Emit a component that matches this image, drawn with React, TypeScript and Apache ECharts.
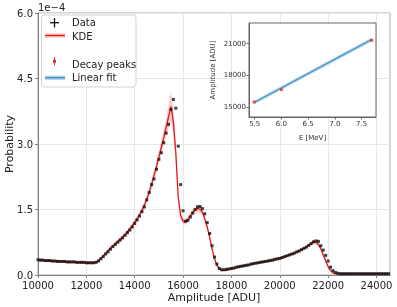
import React, { useEffect, useRef } from "react";
import * as echarts from "echarts";

// Main histogram: amplitude bin centres [ADU]
const amplitude = [
  10000, 10100, 10200, 10300, 10400, 10500, 10600, 10700, 10800, 10900,
  11000, 11100, 11200, 11300, 11400, 11500, 11600, 11700, 11800, 11900,
  12000, 12100, 12200, 12300, 12400, 12500, 12600, 12700, 12800, 12900,
  13000, 13100, 13200, 13300, 13400, 13500, 13600, 13700, 13800, 13900,
  14000, 14100, 14200, 14300, 14400, 14500, 14600, 14700, 14800, 14900,
  15000, 15100, 15200, 15300, 15400, 15500, 15600, 15700, 15800, 15900,
  16000, 16100, 16200, 16300, 16400, 16500, 16600, 16700, 16800, 16900,
  17000, 17100, 17200, 17300, 17400, 17500, 17600, 17700, 17800, 17900,
  18000, 18100, 18200, 18300, 18400, 18500, 18600, 18700, 18800, 18900,
  19000, 19100, 19200, 19300, 19400, 19500, 19600, 19700, 19800, 19900,
  20000, 20100, 20200, 20300, 20400, 20500, 20600, 20700, 20800, 20900,
  21000, 21100, 21200, 21300, 21400, 21500, 21600, 21700, 21800, 21900,
  22000, 22100, 22200, 22300, 22400, 22500, 22600, 22700, 22800, 22900,
  23000, 23100, 23200, 23300, 23400, 23500, 23600, 23700, 23800, 23900,
  24000, 24100, 24200, 24300, 24400, 24500,
];

// Probability (units of 1e-4)
const dataProb = [
  0.35, 0.34, 0.34, 0.33, 0.33, 0.33, 0.32, 0.32, 0.31, 0.31,
  0.31, 0.31, 0.30, 0.30, 0.30, 0.30, 0.29, 0.29, 0.29, 0.29,
  0.28, 0.28, 0.28, 0.28, 0.29, 0.32, 0.37, 0.42, 0.48, 0.53,
  0.59, 0.65, 0.70, 0.75, 0.80, 0.85, 0.91, 0.97, 1.03, 1.10,
  1.18, 1.26, 1.35, 1.45, 1.56, 1.72, 1.89, 2.07, 2.20, 2.42,
  2.65, 2.80, 3.03, 3.25, 3.45, 3.79, 4.02, 3.82, 2.95, 2.07,
  1.47, 1.23, 1.25, 1.33, 1.42, 1.50, 1.56, 1.57, 1.52, 1.40,
  1.20, 0.95, 0.67, 0.41, 0.25, 0.15, 0.12, 0.12, 0.13, 0.14,
  0.15, 0.16, 0.18, 0.19, 0.20, 0.21, 0.22, 0.23, 0.25, 0.26,
  0.27, 0.28, 0.29, 0.30, 0.31, 0.32, 0.33, 0.34, 0.36, 0.37,
  0.38, 0.40, 0.42, 0.44, 0.46, 0.48, 0.50, 0.53, 0.55, 0.58,
  0.61, 0.64, 0.68, 0.72, 0.76, 0.78, 0.77, 0.67, 0.57, 0.45,
  0.32, 0.18, 0.10, 0.06, 0.04, 0.03, 0.03, 0.03, 0.03, 0.03,
  0.03, 0.03, 0.03, 0.03, 0.03, 0.03, 0.03, 0.03, 0.03, 0.03,
  0.03, 0.03, 0.03, 0.03, 0.03, 0.03,
];

const kdeProb = [
  0.35, 0.34, 0.34, 0.33, 0.33, 0.33, 0.32, 0.32, 0.32, 0.31,
  0.31, 0.31, 0.30, 0.30, 0.30, 0.30, 0.29, 0.29, 0.29, 0.29,
  0.28, 0.28, 0.28, 0.28, 0.29, 0.33, 0.38, 0.44, 0.50, 0.56,
  0.62, 0.67, 0.72, 0.77, 0.82, 0.87, 0.93, 0.99, 1.06, 1.13,
  1.21, 1.29, 1.38, 1.48, 1.60, 1.74, 1.90, 2.08, 2.28, 2.48,
  2.70, 2.92, 3.14, 3.38, 3.62, 3.86, 3.50, 2.80, 1.78, 1.36,
  1.23, 1.22, 1.27, 1.35, 1.43, 1.49, 1.52, 1.51, 1.44, 1.28,
  1.10, 0.86, 0.60, 0.38, 0.22, 0.14, 0.11, 0.11, 0.12, 0.13,
  0.14, 0.16, 0.17, 0.18, 0.20, 0.21, 0.22, 0.23, 0.24, 0.26,
  0.27, 0.28, 0.29, 0.30, 0.31, 0.32, 0.33, 0.34, 0.35, 0.37,
  0.38, 0.40, 0.42, 0.44, 0.46, 0.48, 0.50, 0.52, 0.55, 0.58,
  0.61, 0.64, 0.68, 0.72, 0.76, 0.75, 0.70, 0.60, 0.46, 0.32,
  0.19, 0.10, 0.05, 0.03, 0.03, 0.03, 0.03, 0.03, 0.03, 0.03,
  0.03, 0.03, 0.03, 0.03, 0.03, 0.03, 0.03, 0.03, 0.03, 0.03,
  0.03, 0.03, 0.03, 0.03, 0.03, 0.03,
];

// KDE uncertainty half-width (units of 1e-4)
const kdeErr = [
  0.03, 0.03, 0.03, 0.03, 0.03, 0.03, 0.03, 0.03, 0.03, 0.03,
  0.03, 0.03, 0.03, 0.03, 0.03, 0.03, 0.03, 0.03, 0.03, 0.03,
  0.03, 0.03, 0.03, 0.03, 0.03, 0.03, 0.03, 0.04, 0.04, 0.04,
  0.04, 0.04, 0.04, 0.05, 0.05, 0.05, 0.05, 0.05, 0.06, 0.06,
  0.06, 0.07, 0.07, 0.08, 0.08, 0.09, 0.10, 0.11, 0.12, 0.13,
  0.14, 0.16, 0.18, 0.21, 0.26, 0.36, 0.30, 0.20, 0.12, 0.09,
  0.07, 0.07, 0.07, 0.08, 0.08, 0.08, 0.09, 0.09, 0.08, 0.07,
  0.07, 0.06, 0.05, 0.04, 0.03, 0.03, 0.02, 0.02, 0.02, 0.02,
  0.02, 0.02, 0.02, 0.02, 0.02, 0.02, 0.02, 0.02, 0.02, 0.02,
  0.02, 0.02, 0.02, 0.02, 0.02, 0.03, 0.03, 0.03, 0.03, 0.03,
  0.03, 0.03, 0.03, 0.03, 0.03, 0.03, 0.03, 0.03, 0.03, 0.03,
  0.04, 0.04, 0.04, 0.05, 0.05, 0.05, 0.05, 0.04, 0.04, 0.03,
  0.03, 0.02, 0.02, 0.01, 0.01, 0.01, 0.01, 0.01, 0.01, 0.01,
  0.01, 0.01, 0.01, 0.01, 0.01, 0.01, 0.01, 0.01, 0.01, 0.01,
  0.01, 0.01, 0.01, 0.01, 0.01, 0.01,
];

const xTicks = [10000, 12000, 14000, 16000, 18000, 20000, 22000, 24000];
const yTicks = [0, 1.5, 3.0, 4.5, 6.0];

// Inset: decay peaks vs energy
const peakEnergy = [5.49, 6.0, 7.69];
const peakAmp = [15470, 16650, 21320];
const fitEnergy = [5.49, 7.69];
const fitAmp = [15420, 21380];
const insetXTicks = [5.5, 6.0, 6.5, 7.0, 7.5];
const insetYTicks = [15000, 18000, 21000];

const FONT = "DejaVu Sans";
const RED = "#e41a1c";
const BLUE = "#3a8cc7";

export default function App() {
  const ref = useRef<HTMLDivElement>(null);
  useEffect(() => {
    const chart = echarts.init(ref.current!, null, { renderer: "svg" });
    const kde = amplitude.map((x, i) => [x, kdeProb[i]]);
    const pts = amplitude.map((x, i) => [x, dataProb[i]]);
    const peaks = peakEnergy.map((e, i) => [e, peakAmp[i]]);
    const fit = fitEnergy.map((e, i) => [e, fitAmp[i]]);

    const option: any = {
      animation: false,
      textStyle: { fontFamily: FONT },
      grid: [
        { left: 38, right: 7, top: 13, bottom: 32, show: true, borderColor: "#a8a8a8", borderWidth: 1, z: 0 },
        { left: 249, right: 21, top: 23, bottom: 190, show: true, backgroundColor: "#ffffff", borderColor: "#666", borderWidth: 1, z: 10 },
      ],
      xAxis: [
        {
          type: "value", gridIndex: 0, min: 10000, max: 24560, interval: 2000,
          axisLine: { show: true, lineStyle: { color: "#808080" } },
          axisTick: { show: true, length: 3, customValues: xTicks, lineStyle: { color: "#808080" } },
          axisLabel: { customValues: xTicks, color: "#222", fontSize: 10, margin: 5, fontFamily: FONT,
            formatter: (v: number) => String(v) },
          splitLine: { show: true, lineStyle: { color: "#e8e8e8", width: 1 } },
          z: 1,
        },
        {
          type: "value", gridIndex: 1, min: 5.393, max: 7.77,
          axisLine: { show: true, onZero: false, lineStyle: { color: "#666" } },
          axisTick: { show: true, length: 2.5, customValues: insetXTicks, lineStyle: { color: "#666" } },
          axisLabel: { customValues: insetXTicks, color: "#333", fontSize: 7, margin: 3, fontFamily: FONT,
            formatter: (v: number) => v.toFixed(1) },
          splitLine: { show: false },
          name: "E [MeV]", nameLocation: "middle", nameGap: 17,
          nameTextStyle: { fontSize: 7, color: "#333", fontFamily: FONT },
          z: 11,
        },
      ],
      yAxis: [
        {
          type: "value", gridIndex: 0, min: 0, max: 6, interval: 1.5,
          axisLine: { show: true, lineStyle: { color: "#808080" } },
          axisTick: { show: true, length: 3, customValues: yTicks, lineStyle: { color: "#808080" } },
          axisLabel: { customValues: yTicks, color: "#222", fontSize: 10, margin: 5, fontFamily: FONT,
            formatter: (v: number) => v.toFixed(1) },
          splitLine: { show: true, lineStyle: { color: "#e8e8e8", width: 1 } },
          z: 1,
        },
        {
          type: "value", gridIndex: 1, min: 14053, max: 22950,
          axisLine: { show: true, onZero: false, lineStyle: { color: "#666" } },
          axisTick: { show: true, length: 2.5, customValues: insetYTicks, lineStyle: { color: "#666" } },
          axisLabel: { customValues: insetYTicks, color: "#333", fontSize: 7, margin: 3, fontFamily: FONT,
            formatter: (v: number) => String(v) },
          splitLine: { show: false },
          name: "Amplitude [ADU]", nameLocation: "middle", nameGap: 33, nameRotate: 90,
          nameTextStyle: { fontSize: 7, color: "#333", fontFamily: FONT },
          z: 11,
        },
      ],
      series: [
        {
          type: "custom", xAxisIndex: 0, yAxisIndex: 0, data: [[amplitude[0], kdeProb[0]]],
          silent: true, z: 2, clip: true,
          renderItem: (params: any, api: any) => {
            const upper = amplitude.map((x, i) => api.coord([x, kdeProb[i] + kdeErr[i]]));
            const lowerPts = amplitude.map((x, i) => api.coord([x, kdeProb[i] - kdeErr[i]])).reverse();
            return {
              type: "polygon",
              shape: { points: upper.concat(lowerPts) },
              style: { fill: "rgba(228,26,28,0.22)", stroke: "none" },
            };
          },
        },
        {
          type: "line", xAxisIndex: 0, yAxisIndex: 0, data: kde,
          symbol: "none", lineStyle: { color: RED, width: 1.3 }, z: 3,
        },
        {
          type: "scatter", xAxisIndex: 0, yAxisIndex: 0, data: pts,
          symbol: "rect", symbolSize: 3, itemStyle: { color: "#111" }, z: 4,
        },
        {
          type: "line", xAxisIndex: 1, yAxisIndex: 1, data: fit,
          symbol: "none", lineStyle: { color: "rgba(31,119,180,0.3)", width: 3.5 }, z: 12,
        },
        {
          type: "line", xAxisIndex: 1, yAxisIndex: 1, data: fit,
          symbol: "none", lineStyle: { color: BLUE, width: 1.1 }, z: 13,
        },
        {
          type: "scatter", xAxisIndex: 1, yAxisIndex: 1, data: peaks,
          symbol: "rect", symbolSize: 3, itemStyle: { color: "#e03030" }, z: 14,
        },
      ],
      graphic: [
        { type: "text", left: 38, top: 2, style: { text: "1e\u22124", fontSize: 10, fill: "#222", fontFamily: FONT }, z: 20 },
        { type: "text", x: 9, y: 144, rotation: Math.PI / 2,
          style: { text: "Probability", fontSize: 11, fill: "#222", fontFamily: FONT, align: "center", verticalAlign: "middle" }, z: 20 },
        { type: "text", x: 214, y: 297,
          style: { text: "Amplitude [ADU]", fontSize: 11, fill: "#222", fontFamily: FONT, align: "center", verticalAlign: "middle" }, z: 20 },
        { type: "rect", shape: { x: 41.5, y: 15, width: 94.5, height: 72, r: 3 },
          style: { fill: "rgba(255,255,255,0.85)", stroke: "#d4d4d4", lineWidth: 1 }, z: 20 },
        { type: "line", shape: { x1: 50, y1: 22.7, x2: 59, y2: 22.7 }, style: { stroke: "#111", lineWidth: 1.3 }, z: 21 },
        { type: "line", shape: { x1: 54.5, y1: 18, x2: 54.5, y2: 27.5 }, style: { stroke: "#111", lineWidth: 1.3 }, z: 21 },
        { type: "text", x: 72, y: 22.7, style: { text: "Data", fontSize: 10, fill: "#222", fontFamily: FONT, verticalAlign: "middle" }, z: 21 },
        { type: "rect", shape: { x: 45, y: 33.3, width: 20, height: 4.5 }, style: { fill: "rgba(228,26,28,0.22)" }, z: 21 },
        { type: "line", shape: { x1: 45, y1: 35.5, x2: 65, y2: 35.5 }, style: { stroke: RED, lineWidth: 1.4 }, z: 22 },
        { type: "text", x: 72, y: 36, style: { text: "KDE", fontSize: 10, fill: "#222", fontFamily: FONT, verticalAlign: "middle" }, z: 21 },
        { type: "line", shape: { x1: 54.5, y1: 57, x2: 54.5, y2: 65.5 }, style: { stroke: "#e03030", lineWidth: 1 }, z: 21 },
        { type: "rect", shape: { x: 53, y: 59.8, width: 3, height: 3 }, style: { fill: "#e03030" }, z: 22 },
        { type: "text", x: 72, y: 64.3, style: { text: "Decay peaks", fontSize: 10, fill: "#222", fontFamily: FONT, verticalAlign: "middle" }, z: 21 },
        { type: "rect", shape: { x: 45, y: 75.5, width: 20, height: 4.5 }, style: { fill: "rgba(31,119,180,0.3)" }, z: 21 },
        { type: "line", shape: { x1: 45, y1: 77.7, x2: 65, y2: 77.7 }, style: { stroke: BLUE, lineWidth: 1.4 }, z: 22 },
        { type: "text", x: 72, y: 77.7, style: { text: "Linear fit", fontSize: 10, fill: "#222", fontFamily: FONT, verticalAlign: "middle" }, z: 21 },
      ],
    };
    chart.setOption(option);
    return () => chart.dispose();
  }, []);
  return <div ref={ref} style={{ position: "fixed", left: 0, top: 0, width: 397, height: 307 }} />;
}
